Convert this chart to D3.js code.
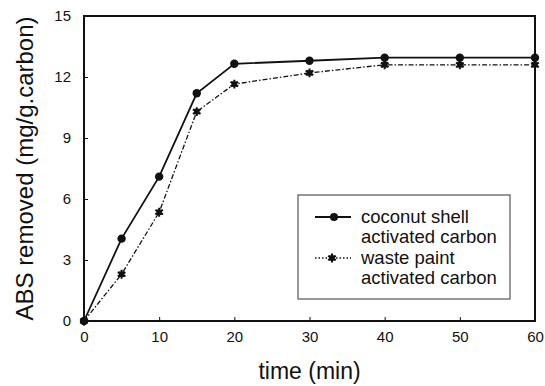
<!DOCTYPE html>
<html>
<head>
<meta charset="utf-8">
<script src="https://cdn.jsdelivr.net/npm/d3@7"></script>
<style>
body { margin: 0; background: #fff; }
text { font-family: "Liberation Sans", Arial, sans-serif; fill: #111; }
</style>
</head>
<body>
<script>
// data
var times = [0, 5, 10, 15, 20, 30, 40, 50, 60];
var coconut = [0, 4.05, 7.1, 11.2, 12.65, 12.8, 12.95, 12.95, 12.95];
var wastePaint = [0, 2.3, 5.35, 10.3, 11.65, 12.2, 12.6, 12.6, 12.6];
var xTicks = [0, 10, 20, 30, 40, 50, 60];
var yTicks = [0, 3, 6, 9, 12, 15];

var w = 545, h = 386;
var m = {left: 84, right: 10, top: 16, bottom: 65};

var svg = d3.select("body").append("svg")
    .attr("width", w)
    .attr("height", h);

var x = d3.scaleLinear().domain([0, 60]).range([m.left, w - m.right]);
var y = d3.scaleLinear().domain([0, 15]).range([h - m.bottom, m.top]);

// axes with inward ticks
svg.append("g")
    .attr("transform", "translate(0," + y(0) + ")")
    .call(d3.axisBottom(x).tickValues(xTicks).tickSizeInner(-4).tickSizeOuter(0).tickPadding(10))
    .call(function(g) {
        g.select(".domain").remove();
        g.selectAll("line").attr("stroke", "#111");
        g.selectAll("text").attr("font-size", 15);
    });

svg.append("g")
    .attr("transform", "translate(" + x(0) + ",0)")
    .call(d3.axisLeft(y).tickValues(yTicks).tickSizeInner(-4).tickSizeOuter(0).tickPadding(13))
    .call(function(g) {
        g.select(".domain").remove();
        g.selectAll("line").attr("stroke", "#111");
        g.selectAll("text").attr("font-size", 15);
    });

// frame
svg.append("rect")
    .attr("x", x(0)).attr("y", y(15))
    .attr("width", x(60) - x(0)).attr("height", y(0) - y(15))
    .attr("fill", "none").attr("stroke", "#111").attr("stroke-width", 2);

var line = d3.line()
    .x(function(d) { return x(d[0]); })
    .y(function(d) { return y(d[1]); });

var cocoPts = times.map(function(t, i) { return [t, coconut[i]]; });
var wastePts = times.map(function(t, i) { return [t, wastePaint[i]]; });

svg.append("path")
    .datum(wastePts)
    .attr("d", line)
    .attr("fill", "none").attr("stroke", "#111").attr("stroke-width", 1.3)
    .attr("stroke-dasharray", "5,2,1.5,2");

svg.append("path")
    .datum(cocoPts)
    .attr("d", line)
    .attr("fill", "none").attr("stroke", "#111").attr("stroke-width", 1.8);

var star = d3.symbol().type(d3.symbolAsterisk).size(55);
var starFill = d3.symbol().type(d3.symbolSquare).size(30);

svg.selectAll(".wp")
    .data(wastePts).enter()
    .append("g")
    .attr("transform", function(d) { return "translate(" + x(d[0]) + "," + y(d[1]) + ")"; })
    .each(function() {
        d3.select(this).append("path").attr("d", star).attr("stroke", "#111").attr("stroke-width", 2);
        d3.select(this).append("path").attr("d", starFill).attr("fill", "#111");
    });

svg.selectAll(".cs")
    .data(cocoPts).enter()
    .append("circle")
    .attr("cx", function(d) { return x(d[0]); })
    .attr("cy", function(d) { return y(d[1]); })
    .attr("r", 4.2)
    .attr("fill", "#111");

// legend
var lg = svg.append("g");
lg.append("rect")
    .attr("x", 298).attr("y", 195).attr("width", 212).attr("height", 104)
    .attr("fill", "#fff").attr("stroke", "#333").attr("stroke-width", 1);

lg.append("line").attr("x1", 315).attr("x2", 351).attr("y1", 217).attr("y2", 217)
    .attr("stroke", "#111").attr("stroke-width", 1.8);
lg.append("circle").attr("cx", 334).attr("cy", 217).attr("r", 4).attr("fill", "#111");

lg.append("line").attr("x1", 315).attr("x2", 351).attr("y1", 258).attr("y2", 258)
    .attr("stroke", "#111").attr("stroke-width", 1.3).attr("stroke-dasharray", "1.5,2");
var lgStar = lg.append("g").attr("transform", "translate(332,258)");
lgStar.append("path").attr("d", star).attr("stroke", "#111").attr("stroke-width", 2);
lgStar.append("path").attr("d", starFill).attr("fill", "#111");

var legendLines = ["coconut shell", "activated carbon", "waste paint", "activated carbon"];
lg.selectAll(".lt")
    .data(legendLines).enter()
    .append("text")
    .attr("x", 361)
    .attr("y", function(d, i) { return 223 + i * 20.3; })
    .attr("font-size", 18.5)
    .text(function(d) { return d; });

// axis titles
svg.append("text")
    .attr("x", (x(0) + x(60)) / 2)
    .attr("y", 379)
    .attr("text-anchor", "middle")
    .attr("font-size", 23)
    .text("time (min)");

svg.append("text")
    .attr("transform", "translate(33," + (y(7.5)) + ") rotate(-90)")
    .attr("text-anchor", "middle")
    .attr("font-size", 24)
    .text("ABS removed (mg/g.carbon)");
</script>
</body>
</html>
